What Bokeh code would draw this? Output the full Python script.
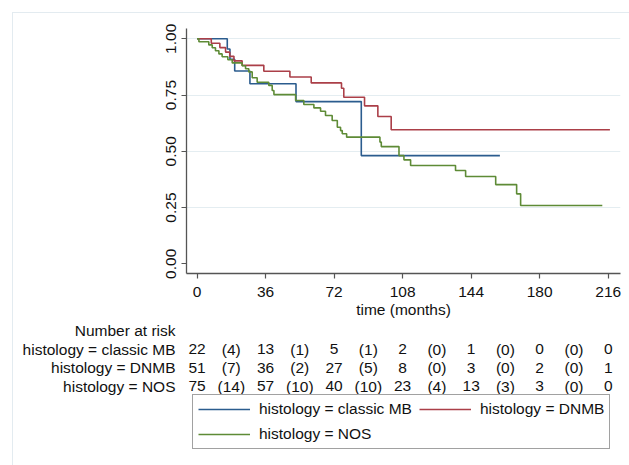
from bokeh.plotting import figure
from bokeh.layouts import column
from bokeh.models import (Range1d, FixedTicker, PrintfTickFormatter, Legend,
                          LegendItem, ColumnDataSource, InlineStyleSheet)
from bokeh.embed import file_html
from bokeh.resources import INLINE
from bokeh.core.properties import value

# ---------------- data ----------------
group_labels = ["histology = classic MB", "histology = DNMB", "histology = NOS"]
table_header = "Number at risk"

classic_t = [0, 15.9, 17.3, 19.8, 27.8, 52.0, 86.3, 159.1]
classic_s = [1.0, 0.955, 0.909, 0.857, 0.800, 0.721, 0.481, 0.481]

dnmb_t = [0, 7.5, 12.0, 15.0, 17.2, 19.4, 23.7, 35.1, 48.8, 60.0, 75.9, 77.1,
          88.0, 95.0, 102.0, 216.9]
dnmb_s = [1.0, 0.980, 0.961, 0.941, 0.922, 0.902, 0.882, 0.856, 0.830, 0.804,
          0.780, 0.740, 0.702, 0.655, 0.596, 0.596]

nos_t = [0, 1.0, 6.2, 8.0, 9.7, 11.5, 13.2, 16.2, 18.5, 23.7, 25.5, 27.2, 29.0,
         31.6, 37.7, 39.5, 40.4, 51.8, 56.1, 61.4, 64.9, 67.5, 71.0, 73.7, 75.4,
         76.3, 78.6, 96.1, 96.8, 106.1, 108.7, 112.2, 135.8, 141.1, 156.9,
         167.9, 170.0, 212.9]
nos_s = [1.0, 0.987, 0.973, 0.960, 0.947, 0.933, 0.920, 0.907, 0.893, 0.880,
         0.867, 0.853, 0.827, 0.807, 0.793, 0.770, 0.752, 0.726, 0.708, 0.693,
         0.678, 0.659, 0.637, 0.607, 0.592, 0.578, 0.563, 0.541, 0.521, 0.481,
         0.462, 0.437, 0.415, 0.388, 0.352, 0.311, 0.259, 0.259]

x_ticks = [0, 36, 72, 108, 144, 180, 216]
y_ticks = [0.0, 0.25, 0.5, 0.75, 1.0]
grid_ticks = [0.25, 0.5, 0.75, 1.0]

risk_times = [0, 36, 72, 108, 144, 180, 216]
censor_times = [18, 54, 90, 126, 162, 198]
classic_risk = [22, 13, 5, 2, 1, 0, 0]
classic_cens = [4, 1, 1, 0, 0, 0]
dnmb_risk = [51, 36, 27, 8, 3, 2, 1]
dnmb_cens = [7, 2, 5, 0, 0, 0]
nos_risk = [75, 57, 40, 23, 13, 3, 0]
nos_cens = [14, 10, 10, 4, 3, 0]

# ---------------- style ----------------
FONT = "Liberation Sans"
FS = "15.5px"
TXT = "#111111"
AX = "#555555"
COLORS = ["#2b5c8e", "#ab3f48", "#5e8b36"]
W = 629
LEFT, RIGHT = 186, 9

x_range = Range1d(-5.52, 222.46)

# ---------------- main KM plot ----------------
p = figure(width=W, height=320, x_range=x_range,
           y_range=Range1d(-0.0431, 1.0458), output_backend="svg",
           toolbar_location=None, min_border_left=LEFT, min_border_right=RIGHT,
           min_border_top=28, min_border_bottom=47)
p.outline_line_color = None
p.xgrid.visible = False
p.ygrid.ticker = FixedTicker(ticks=grid_ticks)
p.ygrid.grid_line_color = "#e4edf1"
p.ygrid.grid_line_width = 1

series = [(classic_t, classic_s), (dnmb_t, dnmb_s), (nos_t, nos_s)]
for (tt, ss), c in zip(series, COLORS):
    p.step(tt, ss, mode="after", line_color=c, line_width=1.6)

p.xaxis.ticker = FixedTicker(ticks=x_ticks)
p.yaxis.ticker = FixedTicker(ticks=y_ticks)
p.yaxis.formatter = PrintfTickFormatter(format="%.2f")
p.yaxis.major_label_orientation = "vertical"
p.xaxis.axis_label = "time (months)"
for ax in (p.xaxis, p.yaxis):
    ax.axis_line_color = AX
    ax.axis_line_width = 1.3
    ax.major_tick_line_color = AX
    ax.major_tick_line_width = 1.2
    ax.major_tick_in = 0
    ax.major_tick_out = 5
    ax.minor_tick_line_color = None
    ax.major_label_text_font = FONT
    ax.major_label_text_font_size = FS
    ax.major_label_text_color = TXT
    ax.axis_label_text_font = FONT
    ax.axis_label_text_font_size = FS
    ax.axis_label_text_font_style = "normal"
    ax.axis_label_text_color = TXT
p.xaxis.major_label_standoff = 8
p.yaxis.major_label_standoff = 5
p.xaxis.axis_label_standoff = 1

# ---------------- number-at-risk table + legend ----------------
t2 = figure(width=W, height=145, x_range=x_range,
            y_range=Range1d(7.29, -0.569), output_backend="svg",
            toolbar_location=None, min_border_left=LEFT,
            min_border_right=RIGHT, min_border_top=0, min_border_bottom=0,
            x_axis_location=None)
t2.outline_line_color = None
t2.xgrid.visible = False
t2.ygrid.visible = False

row_names = [table_header] + group_labels
t2.yaxis.ticker = FixedTicker(ticks=list(range(len(row_names))))
t2.yaxis.major_label_overrides = {i: s for i, s in enumerate(row_names)}
t2.yaxis.axis_line_color = None
t2.yaxis.major_tick_line_color = None
t2.yaxis.minor_tick_line_color = None
t2.yaxis.major_tick_in = 0
t2.yaxis.major_tick_out = 0
t2.yaxis.major_label_standoff = 11
t2.yaxis.major_label_text_font = FONT
t2.yaxis.major_label_text_font_size = FS
t2.yaxis.major_label_text_color = TXT

xs, ys, txt = [], [], []
for row, (risk, cens) in enumerate([(classic_risk, classic_cens),
                                     (dnmb_risk, dnmb_cens),
                                     (nos_risk, nos_cens)], start=1):
    for t, n in zip(risk_times, risk):
        xs.append(t); ys.append(row); txt.append(str(n))
    for t, n in zip(censor_times, cens):
        xs.append(t); ys.append(row); txt.append("(%d)" % n)
src = ColumnDataSource(dict(x=xs, y=ys, text=txt))
t2.text(x="x", y="y", text="text", source=src, text_align="center",
        text_baseline="middle", text_font=value(FONT), text_font_size=FS,
        text_color=TXT)

nan = float("nan")
leg_renderers = [t2.line([nan], [nan], line_color=c, line_width=1.6)
                 for c in COLORS]
legend = Legend(items=[LegendItem(label=l, renderers=[r])
                       for l, r in zip(group_labels, leg_renderers)],
                location=(6, 16), orientation="horizontal", ncols=2,
                padding=5, spacing=7, margin=0,
                glyph_width=52, glyph_height=14, label_height=14,
                label_standoff=9,
                label_text_font=FONT, label_text_font_size=FS,
                label_text_color=TXT,
                border_line_color="#444444", border_line_width=1,
                background_fill_color="white", background_fill_alpha=1)
t2.add_layout(legend)

frame_css = InlineStyleSheet(css="""
:host { position: relative; }
:host::after {
  content: ""; position: absolute; left: 12px; top: 12px; right: 0; bottom: 0;
  border-left: 1px solid #e3ebf0; border-top: 1px solid #e3ebf0;
  pointer-events: none;
}
""")
layout = column(p, t2, stylesheets=[frame_css])
open("out.html", "w").write(file_html(layout, INLINE))
